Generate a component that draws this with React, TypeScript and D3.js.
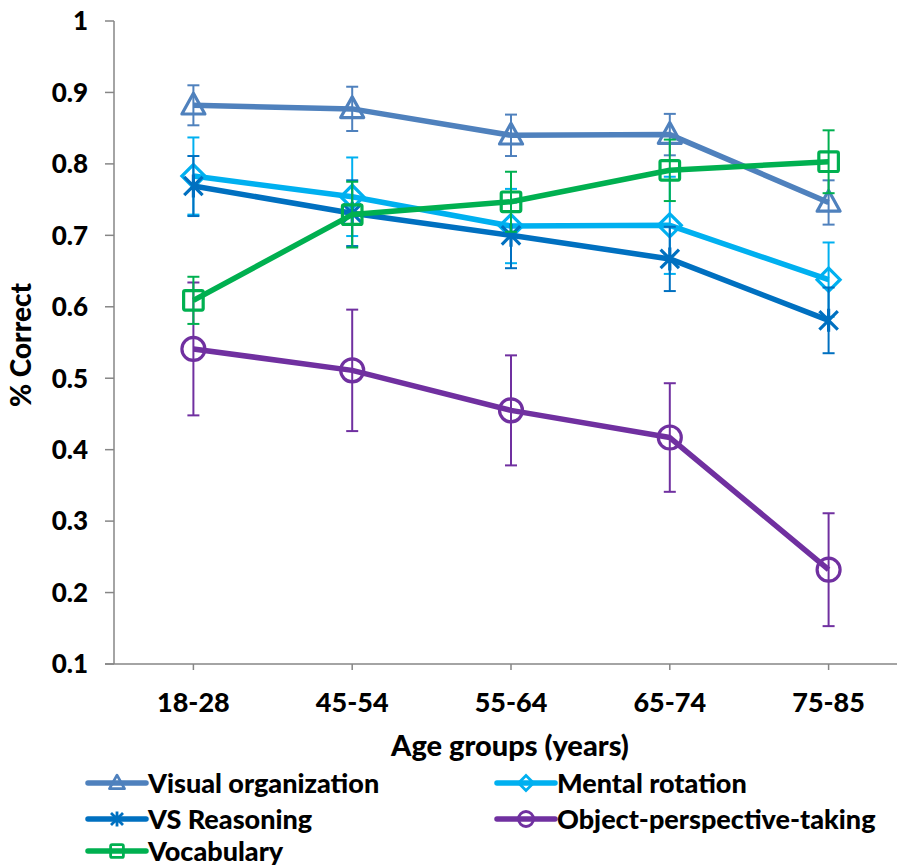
import React from 'react'
import * as d3 from 'd3'

// 연령대 (x축)
const categories = ['18-28', '45-54', '55-64', '65-74', '75-85']
const yTicks = [0.1, 0.2, 0.3, 0.4, 0.5, 0.6, 0.7, 0.8, 0.9, 1]

// 시리즈별 평균값과 오차(±)
const visualOrg = [0.882, 0.877, 0.84, 0.841, 0.746]
const visualOrgErr = [0.028, 0.031, 0.029, 0.029, 0.031]
const mentalRot = [0.783, 0.754, 0.713, 0.714, 0.638]
const mentalRotErr = [0.054, 0.055, 0.052, 0.068, 0.052]
const vsReason = [0.769, 0.731, 0.7, 0.667, 0.581]
const vsReasonErr = [0.042, 0.046, 0.046, 0.045, 0.046]
const objPersp = [0.541, 0.511, 0.455, 0.417, 0.232]
const objPerspErr = [0.093, 0.085, 0.077, 0.076, 0.079]
const vocab = [0.609, 0.729, 0.747, 0.791, 0.803]
const vocabErr = [0.033, 0.046, 0.042, 0.043, 0.044]

type Marker = 'triangle' | 'diamond' | 'star' | 'circle' | 'square'

interface Series {
    name: string
    values: number[]
    err: number[]
    color: string
    marker: Marker
}

const series: Series[] = [
    { name: 'Visual organization', values: visualOrg, err: visualOrgErr, color: '#4f81bd', marker: 'triangle' },
    { name: 'Mental rotation', values: mentalRot, err: mentalRotErr, color: '#00b0f0', marker: 'diamond' },
    { name: 'VS Reasoning', values: vsReason, err: vsReasonErr, color: '#0070c0', marker: 'star' },
    { name: 'Object-perspective-taking', values: objPersp, err: objPerspErr, color: '#7030a0', marker: 'circle' },
    { name: 'Vocabulary', values: vocab, err: vocabErr, color: '#00b050', marker: 'square' },
]

const W = 897
const H = 867
const FONT = 'Lato, "Open Sans", sans-serif'
const axisColor = '#868686'

const x = d3.scalePoint<string>().domain(categories).range([114, 908]).padding(0.5)
const y = d3.scaleLinear().domain([0.1, 1]).range([664, 21])

// 마커 그리기 (크기 s = 반폭)
function MarkerShape({ type, cx, cy, s, color, sw }: { type: Marker; cx: number; cy: number; s: number; color: string; sw: number }) {
    const common = { fill: 'none', stroke: color, strokeWidth: sw }
    if (type === 'triangle') {
        const h = s * 1.8
        return <path {...common} strokeLinejoin="round" d={`M${cx},${cy - h * 0.58}L${cx + s},${cy + h * 0.42}L${cx - s},${cy + h * 0.42}Z`} />
    }
    if (type === 'diamond') {
        return <path {...common} d={`M${cx},${cy - s}L${cx + s},${cy}L${cx},${cy + s}L${cx - s},${cy}Z`} />
    }
    if (type === 'square') {
        const a = s * 0.85
        return <rect {...common} x={cx - a} y={cy - a} width={a * 2} height={a * 2} rx={1.5} />
    }
    if (type === 'circle') {
        return <circle {...common} cx={cx} cy={cy} r={s} />
    }
    const d = s * 0.8
    return (
        <path
            {...common}
            d={`M${cx - d},${cy - d}L${cx + d},${cy + d}M${cx - d},${cy + d}L${cx + d},${cy - d}M${cx},${cy - s}L${cx},${cy + s}`}
        />
    )
}

const App: React.FC = () => {
    const line = d3
        .line<number>()
        .x((_, i) => x(categories[i]) as number)
        .y((d) => y(d))

    const legendRows = [
        { s: series[0], lx: 88, ly: 783 },
        { s: series[1], lx: 497, ly: 783 },
        { s: series[2], lx: 88, ly: 819 },
        { s: series[3], lx: 497, ly: 819 },
        { s: series[4], lx: 88, ly: 851 },
    ]

    return (
        <svg width={W} height={H} style={{ position: 'absolute', left: 0, top: 0, background: '#fff' }} fontFamily={FONT}>
            {/* 축 */}
            <line x1={114} x2={114} y1={y(1)} y2={664} stroke={axisColor} strokeWidth={1.5} />
            <line x1={105} x2={908} y1={664} y2={664} stroke={axisColor} strokeWidth={1.5} />
            {yTicks.map((t) => (
                <g key={t}>
                    <line x1={105} x2={114} y1={y(t)} y2={y(t)} stroke={axisColor} strokeWidth={1.5} />
                    <text x={88} y={y(t)} dy="0.36em" textAnchor="end" fontSize={26} fontWeight={900}>
                        {d3.format('')(t)}
                    </text>
                </g>
            ))}
            {categories.map((c) => (
                <g key={c}>
                    <line x1={x(c)} x2={x(c)} y1={664} y2={670} stroke={axisColor} strokeWidth={1.5} />
                    <text x={x(c)} y={712} textAnchor="middle" fontSize={27} fontWeight={900}>
                        {c}
                    </text>
                </g>
            ))}
            <text x={510} y={756} textAnchor="middle" fontSize={29} fontWeight={900}>
                Age groups (years)
            </text>
            <text transform="translate(31,345) rotate(-90)" textAnchor="middle" fontSize={28} fontWeight={900}>
                % Correct
            </text>

            {/* 시리즈 */}
            {series.map((s) => (
                <g key={s.name}>
                    {s.values.map((v, i) => {
                        const cx = x(categories[i]) as number
                        const top = y(v + s.err[i])
                        const bot = y(v - s.err[i])
                        return (
                            <g key={i} stroke={s.color} strokeWidth={2}>
                                <line x1={cx} x2={cx} y1={top} y2={bot} />
                                <line x1={cx - 6} x2={cx + 6} y1={top} y2={top} />
                                <line x1={cx - 6} x2={cx + 6} y1={bot} y2={bot} />
                            </g>
                        )
                    })}
                    <path d={line(s.values) ?? ''} fill="none" stroke={s.color} strokeWidth={5.5} strokeLinejoin="round" />
                    {s.values.map((v, i) => (
                        <MarkerShape key={i} type={s.marker} cx={x(categories[i]) as number} cy={y(v)} s={11.5} color={s.color} sw={3.2} />
                    ))}
                </g>
            ))}

            {/* 범례 */}
            {legendRows.map(({ s, lx, ly }) => (
                <g key={s.name}>
                    <line x1={lx} x2={lx + 58} y1={ly} y2={ly} stroke={s.color} strokeWidth={5.5} strokeLinecap="round" />
                    <MarkerShape type={s.marker} cx={lx + 29} cy={ly} s={7.5} color={s.color} sw={2.8} />
                    <text x={lx + 60} y={ly} dy="0.36em" fontSize={27} fontWeight={900}>
                        {s.name}
                    </text>
                </g>
            ))}
        </svg>
    )
}

export default App
